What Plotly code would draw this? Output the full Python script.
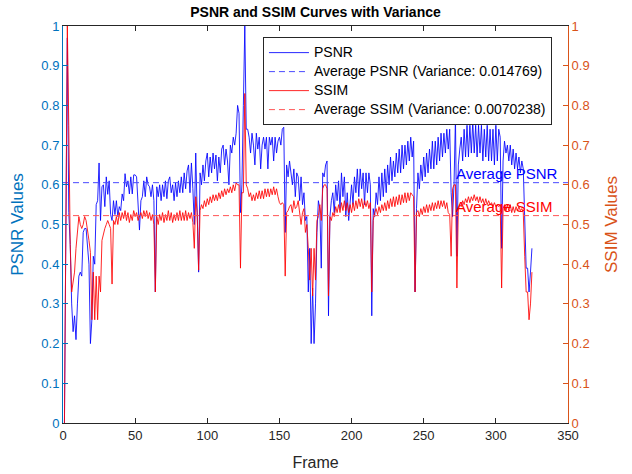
import plotly.graph_objects as go

# ---------------- data ----------------
frames = list(range(1, 326))

psnr = [
    0.00, 0.50, 0.97, 0.53, 0.45, 0.30, 0.23, 0.27, 0.21, 0.30,
    0.37, 0.38, 0.37, 0.48, 0.49, 0.49, 0.45, 0.40, 0.20, 0.26,
    0.42, 0.40, 0.55, 0.56, 0.655, 0.51, 0.595, 0.60, 0.545, 0.62,
    0.576, 0.61, 0.525, 0.51, 0.56, 0.525, 0.56, 0.52, 0.545, 0.535,
    0.577, 0.56, 0.628, 0.595, 0.61, 0.577, 0.62, 0.577, 0.625, 0.625,
    0.62, 0.55, 0.486, 0.56, 0.57, 0.61, 0.57, 0.62, 0.60, 0.595,
    0.57, 0.60, 0.56, 0.33, 0.595, 0.57, 0.60, 0.56, 0.60, 0.57,
    0.61, 0.565, 0.61, 0.62, 0.58, 0.60, 0.56, 0.605, 0.57, 0.61,
    0.58, 0.62, 0.58, 0.63, 0.59, 0.635, 0.65, 0.58, 0.655, 0.59,
    0.50, 0.68, 0.52, 0.38, 0.63, 0.60, 0.65, 0.61, 0.66, 0.68,
    0.62, 0.67, 0.63, 0.68, 0.64, 0.675, 0.61, 0.67, 0.63, 0.69,
    0.70, 0.65, 0.69, 0.66, 0.60, 0.70, 0.68, 0.72, 0.70, 0.73,
    0.80, 0.78, 0.53, 0.60, 0.80, 1.00, 0.74, 0.74, 0.72, 0.68,
    0.73, 0.70, 0.65, 0.73, 0.69, 0.72, 0.64, 0.70, 0.72, 0.69,
    0.72, 0.64, 0.72, 0.70, 0.72, 0.66, 0.72, 0.68, 0.71, 0.72,
    0.70, 0.74, 0.745, 0.48, 0.65, 0.62, 0.66, 0.63, 0.60, 0.64,
    0.57, 0.63, 0.62, 0.56, 0.62, 0.55, 0.58, 0.51, 0.52, 0.33,
    0.44, 0.20, 0.34, 0.20, 0.30, 0.48, 0.56, 0.54, 0.39, 0.63,
    0.62, 0.65, 0.66, 0.27, 0.52, 0.56, 0.58, 0.53, 0.60, 0.56,
    0.61, 0.54, 0.63, 0.57, 0.62, 0.52, 0.58, 0.51, 0.56, 0.60,
    0.55, 0.62, 0.58, 0.64, 0.57, 0.64, 0.59, 0.63, 0.55, 0.63,
    0.58, 0.63, 0.60, 0.27, 0.54, 0.52, 0.58, 0.55, 0.62, 0.56,
    0.63, 0.57, 0.64, 0.58, 0.65, 0.60, 0.67, 0.61, 0.66, 0.62,
    0.68, 0.63, 0.69, 0.63, 0.70, 0.64, 0.70, 0.65, 0.71, 0.66,
    0.72, 0.67, 0.71, 0.33, 0.54, 0.63, 0.59, 0.65, 0.61, 0.67,
    0.62, 0.68, 0.63, 0.69, 0.64, 0.71, 0.64, 0.71, 0.65, 0.72,
    0.66, 0.73, 0.67, 0.73, 0.68, 0.74, 0.69, 0.74, 0.58, 0.52,
    0.60, 0.77, 0.42, 0.65, 0.69, 0.72, 0.66, 0.74, 0.67, 0.75,
    0.67, 0.75, 0.68, 0.76, 0.68, 0.75, 0.67, 0.75, 0.68, 0.75,
    0.66, 0.74, 0.67, 0.75, 0.66, 0.74, 0.66, 0.74, 0.65, 0.75,
    0.66, 0.74, 0.72, 0.44, 0.66, 0.71, 0.68, 0.70, 0.66, 0.70,
    0.65, 0.69, 0.64, 0.68, 0.64, 0.67, 0.63, 0.66, 0.64, 0.52,
    0.39, 0.39, 0.33, 0.38, 0.44,
]

ssim = [
    0.00, 0.55, 1.00, 0.75, 0.45, 0.33, 0.36, 0.38, 0.44, 0.48,
    0.52, 0.50, 0.49, 0.50, 0.52, 0.51, 0.49, 0.46, 0.43, 0.26,
    0.38, 0.26, 0.37, 0.26, 0.37, 0.33, 0.46, 0.48, 0.49, 0.50,
    0.51, 0.50, 0.49, 0.35, 0.51, 0.50, 0.52, 0.50, 0.53, 0.51,
    0.53, 0.515, 0.535, 0.51, 0.53, 0.505, 0.525, 0.51, 0.535, 0.52,
    0.53, 0.51, 0.52, 0.53, 0.515, 0.535, 0.52, 0.535, 0.515, 0.53,
    0.51, 0.525, 0.50, 0.33, 0.52, 0.50, 0.525, 0.51, 0.53, 0.505,
    0.525, 0.51, 0.535, 0.51, 0.53, 0.505, 0.525, 0.51, 0.53, 0.51,
    0.535, 0.51, 0.53, 0.51, 0.535, 0.51, 0.53, 0.515, 0.53, 0.505,
    0.44, 0.57, 0.53, 0.385, 0.535, 0.55, 0.54, 0.56, 0.545, 0.565,
    0.55, 0.57, 0.555, 0.575, 0.56, 0.575, 0.56, 0.58, 0.565, 0.585,
    0.57, 0.59, 0.575, 0.59, 0.58, 0.595, 0.58, 0.60, 0.585, 0.605,
    0.60, 0.60, 0.39, 0.58, 0.58, 0.83, 0.60, 0.59, 0.57, 0.58,
    0.56, 0.575, 0.56, 0.58, 0.565, 0.585, 0.565, 0.585, 0.565, 0.59,
    0.57, 0.59, 0.57, 0.59, 0.575, 0.595, 0.575, 0.59, 0.57, 0.555,
    0.55, 0.555, 0.55, 0.37, 0.53, 0.535, 0.545, 0.55, 0.53, 0.56,
    0.54, 0.545, 0.56, 0.52, 0.50, 0.53, 0.54, 0.48, 0.50, 0.44,
    0.36, 0.44, 0.32, 0.44, 0.36, 0.51, 0.52, 0.55, 0.51, 0.59,
    0.60, 0.60, 0.59, 0.32, 0.52, 0.51, 0.53, 0.52, 0.545, 0.53,
    0.55, 0.53, 0.555, 0.535, 0.56, 0.535, 0.555, 0.53, 0.55, 0.53,
    0.555, 0.535, 0.56, 0.54, 0.565, 0.545, 0.565, 0.54, 0.56, 0.545,
    0.56, 0.54, 0.555, 0.33, 0.51, 0.53, 0.54, 0.525, 0.545, 0.53,
    0.55, 0.535, 0.555, 0.535, 0.56, 0.54, 0.565, 0.545, 0.57, 0.545,
    0.57, 0.55, 0.575, 0.55, 0.575, 0.555, 0.58, 0.555, 0.58, 0.56,
    0.58, 0.575, 0.57, 0.33, 0.53, 0.535, 0.52, 0.54, 0.525, 0.545,
    0.53, 0.55, 0.53, 0.55, 0.535, 0.555, 0.535, 0.555, 0.54, 0.56,
    0.54, 0.56, 0.545, 0.56, 0.54, 0.555, 0.53, 0.525, 0.42, 0.59,
    0.60, 0.60, 0.34, 0.54, 0.55, 0.545, 0.56, 0.55, 0.565, 0.555,
    0.57, 0.555, 0.57, 0.56, 0.575, 0.56, 0.57, 0.555, 0.57, 0.555,
    0.565, 0.55, 0.565, 0.55, 0.56, 0.55, 0.555, 0.545, 0.555, 0.545,
    0.55, 0.545, 0.55, 0.34, 0.54, 0.55, 0.535, 0.55, 0.535, 0.55,
    0.53, 0.545, 0.53, 0.545, 0.535, 0.545, 0.535, 0.54, 0.53, 0.42,
    0.33, 0.33, 0.26, 0.30, 0.38,
]

avg_psnr = 0.6054
avg_ssim = 0.5224
var_psnr_label = "0.014769"
var_ssim_label = "0.0070238"

x_range = [0, 350]
x_ticks = [0, 50, 100, 150, 200, 250, 300, 350]
y_ticks = [0, 0.1, 0.2, 0.3, 0.4, 0.5, 0.6, 0.7, 0.8, 0.9, 1]
text_x = 272

# ---------------- styling ----------------
LEFT_C = "#0072BD"
RIGHT_C = "#D95319"
AX_C = "#262626"
FONT = "Liberation Sans, Arial, sans-serif"


def leg(name):
    # larger legend text while keeping compact MATLAB-like row spacing
    return f'<span style="font-size:14px">{name}</span>'


fig = go.Figure()

fig.add_trace(go.Scatter(
    x=frames, y=psnr, mode="lines", name=leg("PSNR"),
    line=dict(color="rgba(0,0,255,0.85)", width=1), yaxis="y"))
fig.add_trace(go.Scatter(
    x=x_range, y=[avg_psnr, avg_psnr], mode="lines",
    name=leg(f"Average PSNR (Variance: {var_psnr_label})"),
    line=dict(color="#4a4aff", width=1, dash="6px,4px"), yaxis="y"))
fig.add_trace(go.Scatter(
    x=frames, y=ssim, mode="lines", name=leg("SSIM"),
    line=dict(color="rgba(255,0,0,0.85)", width=1), yaxis="y2"))
fig.add_trace(go.Scatter(
    x=x_range, y=[avg_ssim, avg_ssim], mode="lines",
    name=leg(f"Average SSIM (Variance: {var_ssim_label})"),
    line=dict(color="#ff5555", width=1, dash="6px,4px"), yaxis="y2"))

fig.add_annotation(x=text_x, y=avg_psnr, xref="x", yref="y", text="Average PSNR",
                   showarrow=False, xanchor="left", yanchor="bottom",
                   font=dict(color="blue", size=15, family=FONT), borderpad=0)
fig.add_annotation(x=text_x, y=avg_ssim, xref="x", yref="y2", text="Average SSIM",
                   showarrow=False, xanchor="left", yanchor="bottom",
                   font=dict(color="red", size=15, family=FONT), borderpad=0)

fig.update_layout(
    width=632, height=474,
    margin=dict(l=63, r=64, t=26, b=51),
    paper_bgcolor="white", plot_bgcolor="white",
    font=dict(family=FONT, size=13, color=AX_C),
    title=dict(text="<b>PSNR and SSIM Curves with Variance</b>",
               x=0.5, xref="paper", xanchor="center",
               y=0.985, yref="container", yanchor="top",
               font=dict(size=14, color="black", family=FONT)),
    xaxis=dict(range=x_range, tickvals=x_ticks, ticks="inside", ticklen=5,
               tickcolor=AX_C, linecolor=AX_C, linewidth=1, mirror="ticks",
               showgrid=False, zeroline=False, showline=True, automargin=False,
               title=dict(text="Frame", font=dict(size=16, color=AX_C), standoff=15),
               tickfont=dict(size=13, color=AX_C)),
    yaxis=dict(range=[0, 1], tickvals=y_ticks, ticks="inside", ticklen=5,
               tickcolor=LEFT_C, linecolor=LEFT_C, linewidth=1, showline=True,
               showgrid=False, zeroline=False, automargin=False,
               title=dict(text="PSNR Values", font=dict(size=17, color=LEFT_C), standoff=13),
               tickfont=dict(size=13, color=LEFT_C)),
    yaxis2=dict(range=[0, 1], tickvals=y_ticks, ticks="inside", ticklen=5,
                tickcolor=RIGHT_C, linecolor=RIGHT_C, linewidth=1, showline=True,
                overlaying="y", side="right", showgrid=False, zeroline=False,
                automargin=False,
                title=dict(text="SSIM Values", font=dict(size=17, color=RIGHT_C), standoff=16),
                tickfont=dict(size=13, color=RIGHT_C)),
    legend=dict(x=0.396, y=0.972, xanchor="left", yanchor="top",
                bgcolor="white", bordercolor=AX_C, borderwidth=1,
                font=dict(size=11, color="black", family=FONT),
                itemwidth=40, tracegroupgap=0),
    showlegend=True,
)

fig.write_html("out.html")
